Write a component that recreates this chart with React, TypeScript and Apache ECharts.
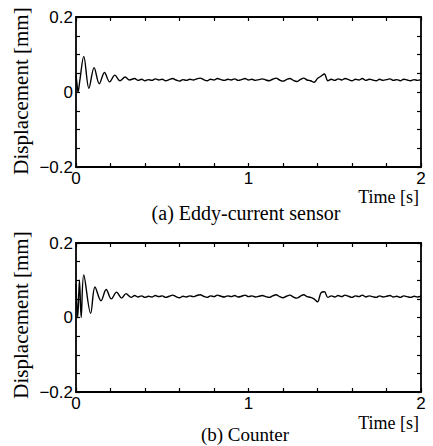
import React, { useEffect, useRef } from "react";
import * as echarts from "echarts";

// (a) Eddy-current sensor
const timeA: number[] = [0, 0.006, 0.012, 0.022, 0.045, 0.075, 0.105, 0.135, 0.165, 0.195, 0.225, 0.255, 0.285, 0.31,
  0.34, 0.36, 0.38, 0.4, 0.42, 0.44, 0.46, 0.48, 0.5, 0.52, 0.54, 0.56, 0.58, 0.6, 0.62, 0.64, 0.66, 0.68, 0.7, 0.72, 0.74, 0.76, 0.78, 0.8,
  0.82, 0.84, 0.86, 0.88, 0.9, 0.92, 0.94, 0.96, 0.98, 1.0, 1.02, 1.04, 1.06, 1.08, 1.1, 1.12, 1.14, 1.16, 1.18, 1.2, 1.22, 1.24, 1.26,
  1.28, 1.3, 1.32, 1.34, 1.36, 1.38, 1.4, 1.42, 1.44, 1.46, 1.48, 1.5, 1.52, 1.54, 1.56, 1.58, 1.6, 1.62, 1.64, 1.66, 1.68, 1.7, 1.72,
  1.74, 1.76, 1.78, 1.8, 1.82, 1.84, 1.86, 1.88, 1.9, 1.92, 1.94, 1.96, 1.98, 2.0];
const valuesA: number[] = [0.045, 0.02, 0.0, 0.03, 0.095, 0.01, 0.065, 0.022, 0.052, 0.027, 0.045, 0.03, 0.04, 0.032,
  0.036, 0.031, 0.034, 0.03, 0.033, 0.031, 0.035, 0.032, 0.034, 0.03, 0.033, 0.036, 0.032, 0.029, 0.033, 0.031, 0.034, 0.032, 0.035, 0.037, 0.033, 0.03, 0.034, 0.032,
  0.036, 0.033, 0.031, 0.034, 0.032, 0.035, 0.031, 0.033, 0.036, 0.032, 0.034, 0.031, 0.033, 0.035, 0.032, 0.03, 0.034, 0.037, 0.032, 0.029, 0.033, 0.036, 0.031,
  0.028, 0.033, 0.037, 0.032, 0.03, 0.026, 0.036, 0.042, 0.048, 0.03, 0.034, 0.031, 0.035, 0.032, 0.036, 0.033, 0.03, 0.034, 0.032, 0.036, 0.031, 0.034, 0.032,
  0.03, 0.034, 0.031, 0.033, 0.035, 0.031, 0.033, 0.03, 0.034, 0.032, 0.03, 0.033, 0.031, 0.033];

// (b) Counter
const timeB: number[] = [0, 0.01, 0.02, 0.03, 0.045, 0.085, 0.11, 0.145, 0.175, 0.205, 0.235, 0.265, 0.29, 0.32,
  0.34, 0.36, 0.38, 0.4, 0.42, 0.44, 0.46, 0.48, 0.5, 0.52, 0.54, 0.56, 0.58, 0.6, 0.62, 0.64, 0.66, 0.68, 0.7, 0.72, 0.74, 0.76, 0.78, 0.8,
  0.82, 0.84, 0.86, 0.88, 0.9, 0.92, 0.94, 0.96, 0.98, 1.0, 1.02, 1.04, 1.06, 1.08, 1.1, 1.12, 1.14, 1.16, 1.18, 1.2, 1.22, 1.24, 1.26,
  1.28, 1.3, 1.32, 1.34, 1.36, 1.38, 1.4, 1.42, 1.44, 1.46, 1.48, 1.5, 1.52, 1.54, 1.56, 1.58, 1.6, 1.62, 1.64, 1.66, 1.68, 1.7, 1.72,
  1.74, 1.76, 1.78, 1.8, 1.82, 1.84, 1.86, 1.88, 1.9, 1.92, 1.94, 1.96, 1.98, 2.0];
const valuesB: number[] = [0.09, 0.0, 0.1, 0.0, 0.114, 0.011, 0.082, 0.045, 0.075, 0.05, 0.068, 0.052, 0.064, 0.054,
  0.059, 0.055, 0.058, 0.054, 0.057, 0.055, 0.059, 0.056, 0.058, 0.054, 0.057, 0.06, 0.056, 0.053, 0.057, 0.055, 0.058, 0.056, 0.059, 0.061, 0.057, 0.054, 0.058, 0.056,
  0.06, 0.057, 0.055, 0.058, 0.056, 0.059, 0.055, 0.057, 0.06, 0.056, 0.058, 0.055, 0.057, 0.059, 0.056, 0.054, 0.058, 0.061, 0.056, 0.053, 0.057, 0.06, 0.055,
  0.052, 0.057, 0.061, 0.056, 0.054, 0.05, 0.042, 0.066, 0.069, 0.054, 0.058, 0.055, 0.059, 0.056, 0.06, 0.057, 0.054, 0.058, 0.056, 0.06, 0.055, 0.058, 0.056,
  0.054, 0.058, 0.055, 0.057, 0.059, 0.055, 0.057, 0.054, 0.058, 0.056, 0.054, 0.057, 0.055, 0.057];

const xTickLabels: string[] = ["0", "1", "2"];
const yTickLabels: string[] = ["−0.2", "0", "0.2"];

const SANS = "Liberation Sans";
const SERIF = "Liberation Serif";

export default function App() {
  const ref = useRef<HTMLDivElement>(null);
  useEffect(() => {
    document.body.style.margin = "0";
    const chart = echarts.init(ref.current!, null, { renderer: "svg" });
    const grids = [
      { left: 76, top: 17, width: 345, height: 150 },
      { left: 76, top: 243, width: 345, height: 149 },
    ];
    const axisLine = { show: true, onZero: false, lineStyle: { color: "#000", width: 1.8 } };
    const tick = { show: true, inside: true, length: 4, lineStyle: { color: "#000", width: 1.2 } };
    const xLabel = (v: number) => {
      const r = Math.round(v * 10) / 10;
      if (Math.abs(r - Math.round(r)) < 1e-9) return xTickLabels[Math.round(r)] ?? "";
      return "";
    };
    const yLabel = (v: number) => {
      const r = Math.round(v * 100) / 100;
      if (Math.abs(r + 0.2) < 1e-9) return yTickLabels[0];
      if (Math.abs(r) < 1e-9) return yTickLabels[1];
      if (Math.abs(r - 0.2) < 1e-9) return yTickLabels[2];
      return "";
    };
    const xAxes: any[] = [];
    const yAxes: any[] = [];
    grids.forEach((_, i) => {
      xAxes.push({
        type: "value", gridIndex: i, min: 0, max: 2, interval: 0.2, position: "bottom",
        axisLine, axisTick: tick, splitLine: { show: false },
        axisLabel: { formatter: xLabel, color: "#000", fontFamily: SANS, fontSize: 17, margin: 3, showMinLabel: true, showMaxLabel: true },
      });
      xAxes.push({
        type: "value", gridIndex: i, min: 0, max: 2, interval: 0.2, position: "top",
        axisLine, axisTick: tick, splitLine: { show: false }, axisLabel: { show: false },
      });
      yAxes.push({
        type: "value", gridIndex: i, min: -0.2, max: 0.2, interval: 0.05, position: "left",
        axisLine, axisTick: tick, splitLine: { show: false },
        axisLabel: { formatter: yLabel, color: "#000", fontFamily: SANS, fontSize: 17, margin: 3, showMinLabel: true, showMaxLabel: true },
      });
      yAxes.push({
        type: "value", gridIndex: i, min: -0.2, max: 0.2, interval: 0.05, position: "right",
        axisLine, axisTick: tick, splitLine: { show: false }, axisLabel: { show: false },
      });
    });
    const serA = timeA.map((t, i) => [t, valuesA[i]]);
    const serB = timeB.map((t, i) => [t, valuesB[i]]);
    chart.setOption({
      animation: false,
      backgroundColor: "#fff",
      grid: grids,
      xAxis: xAxes,
      yAxis: yAxes,
      series: [
        { type: "line", xAxisIndex: 0, yAxisIndex: 0, data: serA, showSymbol: false, smooth: 0.35, lineStyle: { color: "#000", width: 1.4 } },
        { type: "line", xAxisIndex: 2, yAxisIndex: 2, data: serB, showSymbol: false, smooth: 0.35, lineStyle: { color: "#000", width: 1.4 } },
      ],
      graphic: [
        { type: "text", x: 21, y: 91, rotation: Math.PI / 2, style: { text: "Displacement [mm]", font: `21px "${SERIF}"`, fill: "#000", textAlign: "center", textVerticalAlign: "middle" } },
        { type: "text", x: 21, y: 315, rotation: Math.PI / 2, style: { text: "Displacement [mm]", font: `21px "${SERIF}"`, fill: "#000", textAlign: "center", textVerticalAlign: "middle" } },
        { type: "text", x: 419, y: 197, style: { text: "Time [s]", font: `18px "${SERIF}"`, fill: "#000", textAlign: "right", textVerticalAlign: "middle" } },
        { type: "text", x: 419, y: 423, style: { text: "Time [s]", font: `18px "${SERIF}"`, fill: "#000", textAlign: "right", textVerticalAlign: "middle" } },
        { type: "text", x: 246, y: 213, style: { text: "(a) Eddy-current sensor", font: `20px "${SERIF}"`, fill: "#000", textAlign: "center", textVerticalAlign: "middle" } },
        { type: "text", x: 245, y: 434, style: { text: "(b) Counter", font: `19px "${SERIF}"`, fill: "#000", textAlign: "center", textVerticalAlign: "middle" } },
      ],
    });
    return () => chart.dispose();
  }, []);
  return <div ref={ref} style={{ width: 433, height: 446 }} />;
}
